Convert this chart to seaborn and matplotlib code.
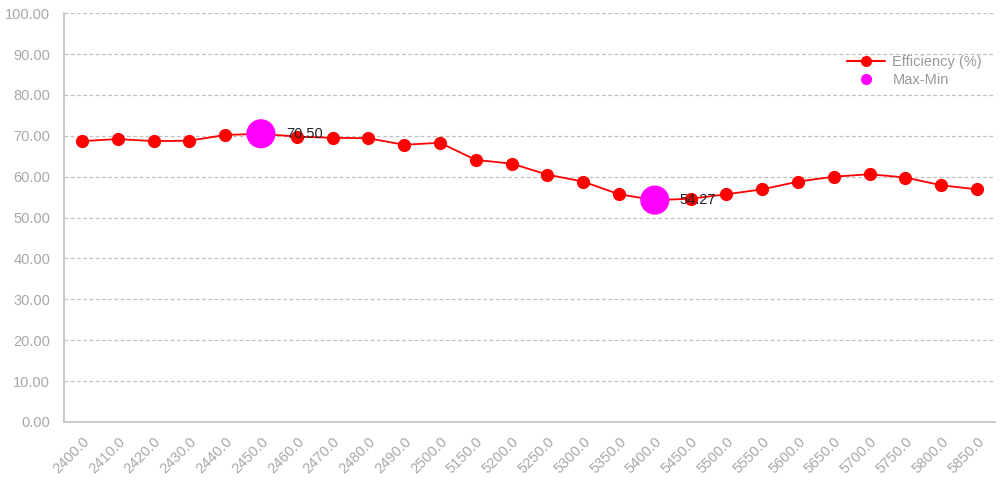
import matplotlib
matplotlib.use("Agg")
import matplotlib.pyplot as plt
import seaborn as sns
import pandas as pd
from matplotlib.ticker import FixedLocator, FormatStrFormatter
from matplotlib.lines import Line2D

# data
freqs = ['2400.0', '2410.0', '2420.0', '2430.0', '2440.0', '2450.0', '2460.0',
         '2470.0', '2480.0', '2490.0', '2500.0', '5150.0', '5200.0', '5250.0',
         '5300.0', '5350.0', '5400.0', '5450.0', '5500.0', '5550.0', '5600.0',
         '5650.0', '5700.0', '5750.0', '5800.0', '5850.0']
efficiency = [68.7, 69.2, 68.7, 68.8, 70.2, 70.50, 69.8, 69.5, 69.4, 67.8,
              68.3, 64.1, 63.2, 60.5, 58.8, 55.7, 54.27, 54.6, 55.7, 56.9,
              58.8, 60.0, 60.6, 59.8, 57.9, 56.9]

df = pd.DataFrame({'idx': range(len(freqs)), 'freq': freqs, 'eff': efficiency})
i_max = df['eff'].idxmax()
i_min = df['eff'].idxmin()
extremes = df.loc[[i_max, i_min]]

sns.set_style("white")
plt.rcParams['font.family'] = ['Liberation Sans', 'DejaVu Sans']

fig = plt.figure(figsize=(10, 4.87), dpi=100)
ax = fig.add_axes([0.064, 0.1335, 0.931, 0.8395])

sns.lineplot(data=df, x='idx', y='eff', ax=ax, color='#ff0000', lw=1.3,
             marker='o', markersize=9.5, markeredgewidth=0, zorder=3)
sns.scatterplot(data=extremes, x='idx', y='eff', ax=ax, color='#ff00ff',
                s=440, edgecolor='none', zorder=4)

for _, r in extremes.iterrows():
    ax.annotate(f"{r['eff']:.2f}", (r['idx'], r['eff']), xytext=(18, 0),
                textcoords='offset points', va='center', ha='left',
                fontsize=10.5, color='#222222', zorder=5)

ax.set_xlim(-0.5, len(freqs) - 0.5)
ax.set_ylim(0, 100)
ax.set_yticks(range(0, 101, 10))
ax.yaxis.set_major_formatter(FormatStrFormatter('%.2f'))
ax.set_xticks(df['idx'])
ax.set_xticklabels(freqs, rotation=45, ha='right', rotation_mode='anchor')
ax.xaxis.set_minor_locator(FixedLocator([i + 0.5 for i in range(-1, len(freqs))]))
ax.tick_params(axis='x', which='major', length=0, pad=9, labelsize=10.5, labelcolor='#a8a8a8')
ax.tick_params(axis='x', which='minor', direction='in', length=5, color='#bbbbbb', width=1)
ax.tick_params(axis='y', length=0, pad=10, labelsize=10.5, labelcolor='#a8a8a8')

ax.grid(axis='y', ls=(0, (3, 2)), color='#c0c0c0', lw=0.9)
ax.set_axisbelow(True)
for s in ['top', 'right']:
    ax.spines[s].set_visible(False)
for s in ['left', 'bottom']:
    ax.spines[s].set_color('#c0c0c0')
    ax.spines[s].set_linewidth(1.2)
ax.set_xlabel('')
ax.set_ylabel('')

handles = [Line2D([], [], color='#ff0000', lw=1.5, marker='o', markersize=8, markeredgewidth=0),
           Line2D([], [], color='#ff00ff', lw=0, marker='o', markersize=8, markeredgewidth=0)]
leg = ax.legend(handles, ['Efficiency (%)', 'Max-Min'], loc='upper right',
                bbox_to_anchor=(1.0, 0.93), frameon=False, fontsize=10.5,
                handlelength=2.6, labelspacing=0.3, handletextpad=0.5)
for t in leg.get_texts():
    t.set_color('#999999')

fig.savefig('out.png', dpi=100)
